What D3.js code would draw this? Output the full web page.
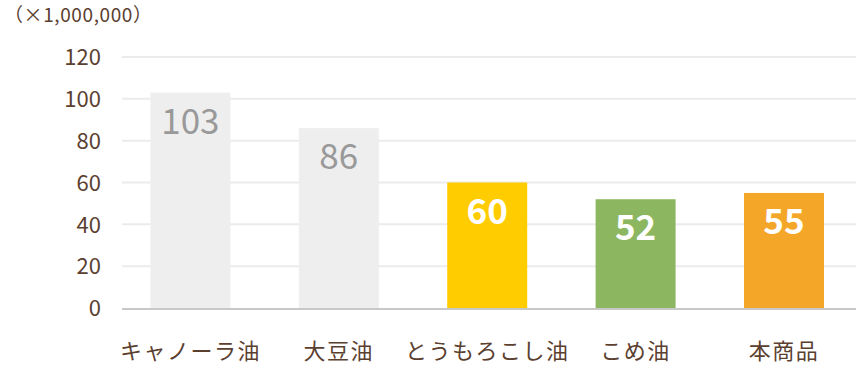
<!DOCTYPE html>
<html><head><meta charset="utf-8">
<script src="https://cdn.jsdelivr.net/npm/d3@7"></script>
<style>
html,body{margin:0;padding:0;background:#fff;}
svg{display:block;font-family:"Noto Sans CJK JP","Noto Sans",sans-serif;}
</style></head>
<body>
<svg id="chart" width="856" height="372"></svg>
<script>
const categories = ["キャノーラ油","大豆油","とうもろこし油","こめ油","本商品"];
const values = [103, 86, 60, 52, 55];
const barColors = ["#eeeeee","#eeeeee","#ffcc00","#8db660","#f4a628"];
const labelColors = ["#999999","#999999","#ffffff","#ffffff","#ffffff"];
const labelWeights = ["400","400","700","700","700"];
const yTicks = [0,20,40,60,80,100,120];
const unitLabel = "（×1,000,000）";

const svg = d3.select("#chart");
const textColor = "#5b4030";

const x = d3.scaleBand().domain(categories).range([116.2, 858.2]).paddingInner(0.461).paddingOuter(0.2305);
const y = d3.scaleLinear().domain([0,120]).range([308, 57]);

// gridlines
svg.append("g").selectAll("line").data(yTicks.filter(d=>d>0)).join("line")
  .attr("x1",122).attr("x2",856)
  .attr("y1",d=>y(d)).attr("y2",d=>y(d))
  .attr("stroke","#ebebeb").attr("stroke-width",2);

// y axis labels
const yAxis = d3.axisLeft(y).tickValues(yTicks).tickSize(0).tickPadding(0);
const ya = svg.append("g").attr("transform","translate(101,0)").call(yAxis);
ya.select(".domain").remove();
ya.selectAll("text").attr("fill",textColor).attr("font-size",22)
  .attr("font-family",'"Noto Sans CJK JP","Noto Sans",sans-serif').attr("dy","0.35em");

// bars
svg.append("g").selectAll("rect").data(values).join("rect")
  .attr("x",(d,i)=>x(categories[i]))
  .attr("width",x.bandwidth())
  .attr("y",d=>y(d))
  .attr("height",d=>y(0)-y(d))
  .attr("fill",(d,i)=>barColors[i]);

// baseline
svg.append("line").attr("x1",122).attr("x2",856).attr("y1",y(0)+1).attr("y2",y(0)+1)
  .attr("stroke","#c8c8c8").attr("stroke-width",2);

// value labels
svg.append("g").selectAll("text").data(values).join("text")
  .attr("x",(d,i)=>x(categories[i])+x.bandwidth()/2)
  .attr("y",d=>y(d)+41)
  .attr("text-anchor","middle")
  .attr("font-size",35)
  .attr("font-weight",(d,i)=>labelWeights[i])
  .attr("fill",(d,i)=>labelColors[i])
  .text(d=>d);

// x axis labels
const xAxis = d3.axisBottom(x).tickSize(0).tickPadding(0);
const xa = svg.append("g").attr("transform","translate(0,341)").call(xAxis);
xa.select(".domain").remove();
xa.selectAll("text").attr("fill",textColor).attr("font-size",22)
  .attr("font-family",'"Noto Sans CJK JP","Noto Sans",sans-serif')
  .attr("letter-spacing","1.5px").attr("dy","0.8em");

// unit label
svg.append("text").attr("x",4).attr("y",22).attr("fill",textColor)
  .attr("font-size",19).attr("letter-spacing","0.6px").text(unitLabel);
</script>
</body></html>
